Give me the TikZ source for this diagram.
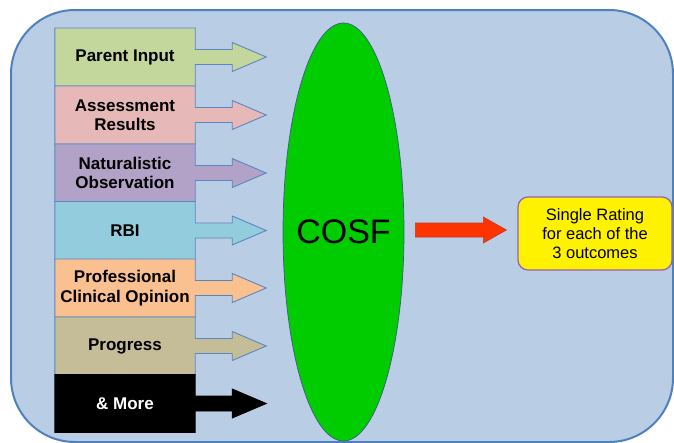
\documentclass[tikz,border=0pt]{standalone}
\usepackage{fontspec}
\setmainfont{Liberation Sans}
\usetikzlibrary{shapes.geometric,calc}
\pgfdeclarelayer{backmost}
\pgfdeclarelayer{behind}
\pgfsetlayers{backmost,behind,main}
\definecolor{bgfill}{HTML}{B9CDE5}
\definecolor{bgline}{HTML}{4F81BD}
\definecolor{boxline}{HTML}{5B87C0}
\definecolor{cgreen}{HTML}{C3D69B}
\definecolor{cpink}{HTML}{E6B9B8}
\definecolor{cpurple}{HTML}{B3A2C7}
\definecolor{ccyan}{HTML}{93CDDD}
\definecolor{corange}{HTML}{FAC090}
\definecolor{ctan}{HTML}{C4BD97}
\definecolor{cosfgreen}{HTML}{00CC00}
\definecolor{cosfline}{HTML}{3B5A8A}
\definecolor{redarrow}{HTML}{FF3300}
\definecolor{redline}{HTML}{C0392B}
\definecolor{yelline}{HTML}{9A5FA8}
\tikzset{
  srcbox/.style={rectangle, inner sep=0pt, minimum width=140pt, minimum height=57.6pt,
    align=center, font=\fontsize{17}{19.5}\selectfont\bfseries, text=black},
  srcshape/.style={line width=0.9pt, draw=boxline, line join=miter},
}
\newcommand{\srcarrow}[3]{% #1 node name, #2 fill colour, #3 line colour
  \filldraw[srcshape, fill=#2, draw=#3]
    (#1.north west) -- (#1.north east) -- ($(#1.east)+(0,-7.5)$) -- ($(#1.east)+(37,-7.5)$)
    -- ($(#1.east)+(37,-14.5)$) -- ($(#1.east)+(71,0)$) -- ($(#1.east)+(37,14.5)$)
    -- ($(#1.east)+(37,7.5)$) -- ($(#1.east)+(0,7.5)$) -- (#1.south east) -- (#1.south west) -- cycle;
}
\begin{document}
\begin{tikzpicture}[x=1pt,y=-1pt]
\useasboundingbox (0,0) rectangle (674,442);
\begin{pgfonlayer}{backmost}
\fill[white] (0,0) rectangle (674,442);
\begin{scope}
\clip (0,0) rectangle (674,442);
\filldraw[fill=bgfill, draw=bgline, line width=2pt, rounded corners=64pt] (11,10) rectangle (673,442);
\end{scope}
\end{pgfonlayer}
% source boxes
\node[srcbox] (pi) at (125,57) {Parent Input};
\node[srcbox] (ar) at (125,115) {Assessment\\Results};
\node[srcbox] (no) at (125,173) {Naturalistic\\Observation};
\node[srcbox] (rbi) at (125,230.5) {RBI};
\node[srcbox] (pco) at (125,288) {Professional\\Clinical Opinion};
\node[srcbox] (pr) at (125,346) {Progress};
\node[srcbox, text=white] (mo) at (125,403.5) {\& More};
% box-and-arrow shapes behind the texts
\begin{pgfonlayer}{behind}
\srcarrow{pi}{cgreen}{boxline}
\srcarrow{ar}{cpink}{boxline}
\srcarrow{no}{cpurple}{boxline}
\srcarrow{rbi}{ccyan}{boxline}
\srcarrow{pco}{corange}{boxline}
\srcarrow{pr}{ctan}{boxline}
\srcarrow{mo}{black}{black}
\end{pgfonlayer}
% COSF ellipse
\node[ellipse, fill=cosfgreen, draw=cosfline, line width=0.7pt, minimum width=121pt,
      minimum height=418pt, inner sep=0pt, font=\fontsize{34}{38}\selectfont] (cosf) at (343.5,232) {\makebox[0pt]{COSF}};
% result box
\node[rectangle, rounded corners=10pt, fill=yellow, draw=yelline, line width=1.2pt,
      minimum width=154pt, minimum height=73pt, inner sep=0pt, align=center,
      font=\fontsize{16.5}{19}\selectfont] (res) at (595,233.5) {Single Rating\\for each of the\\3 outcomes};
% red arrow
\coordinate (ra) at ($(cosf.east)+(11,-2)$);
\filldraw[fill=redarrow, draw=redline, line width=0.6pt, line join=miter]
  ($(ra)+(0,-7)$) -- ($(ra)+(68,-7)$) -- ($(ra)+(68,-13)$) -- ($(res.west)+(-11,-3.5)$)
  -- ($(ra)+(68,13)$) -- ($(ra)+(68,7)$) -- ($(ra)+(0,7)$) -- cycle;
\end{tikzpicture}
\end{document}
